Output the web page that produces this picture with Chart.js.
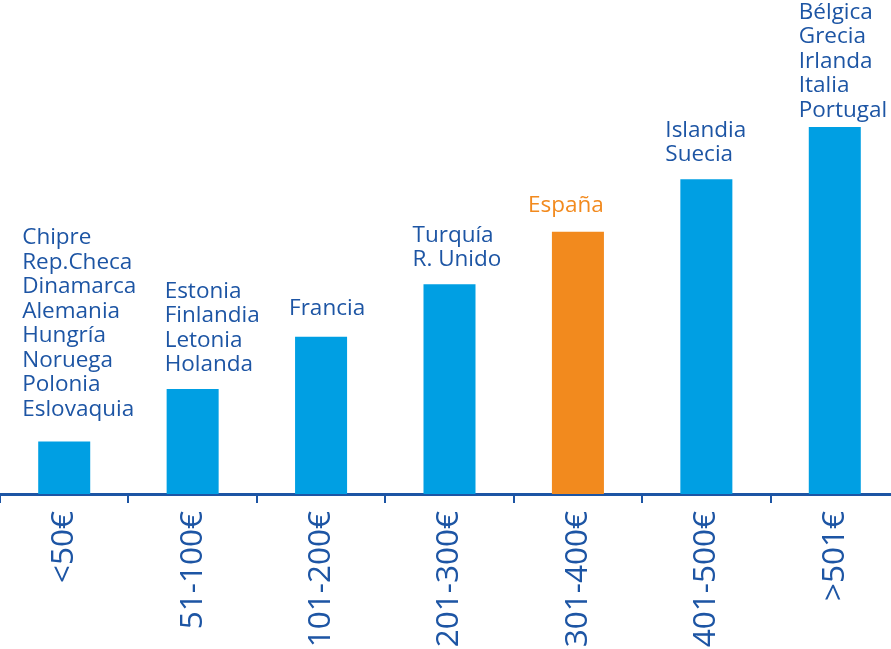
<!DOCTYPE html>
<html>
<head>
<meta charset="utf-8">
<script src="https://cdn.jsdelivr.net/npm/chart.js@4.4.1/dist/chart.umd.min.js"></script>
<style>
  html, body { margin: 0; padding: 0; overflow: hidden; background: #fff; }
  #wrap { position: relative; width: 899px; height: 649px; }
</style>
</head>
<body>
<div id="wrap"><canvas id="bar-chart"></canvas></div>
<script>
// Data

const categories = ["<50€", "51-100€", "101-200€", "201-300€", "301-400€", "401-500€", ">501€"];
const values = [1, 2, 3, 4, 5, 6, 7];
const countries = [
  ["Chipre", "Rep.Checa", "Dinamarca", "Alemania", "Hungría", "Noruega", "Polonia", "Eslovaquia"],
  ["Estonia", "Finlandia", "Letonia", "Holanda"],
  ["Francia"],
  ["Turquía", "R. Unido"],
  ["España"],
  ["Islandia", "Suecia"],
  ["Bélgica", "Grecia", "Irlanda", "Italia", "Portugal"]
];
const highlight = "España";

const blue = '#009fe3';
const orange = '#f28a1e';
const navy = '#1d55a4';

const barColors = countries.map(c => c.includes(highlight) ? orange : blue);

// Country names above each bar
const countryLabels = {
  id: 'countryLabels',
  afterDatasetsDraw(chart, args, opts) {
    const ctx = chart.ctx;
    const meta = chart.getDatasetMeta(0);
    ctx.save();
    ctx.font = '500 22.5px "Open Sans"';
    ctx.textAlign = 'left';
    ctx.textBaseline = 'alphabetic';
    meta.data.forEach((bar, i) => {
      const lines = countries[i];
      const left = bar.x - bar.width / 2 + opts.dx[i];
      const lastBase = bar.y - opts.dy[i];
      ctx.fillStyle = lines.includes(highlight) ? orange : navy;
      lines.forEach((t, j) => {
        ctx.fillText(t, left, lastBase - (lines.length - 1 - j) * 24.5);
      });
    });
    ctx.restore();
  }
};

new Chart(document.getElementById("bar-chart"), {
  type: 'bar',
  data: {
    labels: categories,
    datasets: [
      {
        data: values,
        backgroundColor: barColors,
        borderWidth: 0,
        categoryPercentage: 1,
        barPercentage: 0.405
      }
    ]
  },
  options: {
    responsive: true,
    maintainAspectRatio: false,
    animation: false,
    layout: { padding: 0 },
    plugins: {
      legend: { display: false },
      tooltip: { enabled: false },
      countryLabels: {
        dx: [-16, -2, -6, -11, -24, -15, -10],
        dy: [26, 18, 22, 18, 20, 18, 10]
      }
    },
    scales: {
      x: {
        afterFit(scale) { scale.height = 155; },
        border: { display: true, color: navy, width: 3 },
        grid: {
          offset: true,
          drawOnChartArea: false,
          drawTicks: true,
          tickLength: 9,
          color: navy,
          lineWidth: 2
        },
        ticks: {
          minRotation: 90,
          maxRotation: 90,
          autoSkip: false,
          padding: 8,
          color: navy,
          font: { family: '"Open Sans"', size: 31.5, weight: '500' }
        }
      },
      y: {
        display: false,
        min: 0,
        max: 9.42
      }
    }
  },
  plugins: [countryLabels]
});
</script>
</body>
</html>
